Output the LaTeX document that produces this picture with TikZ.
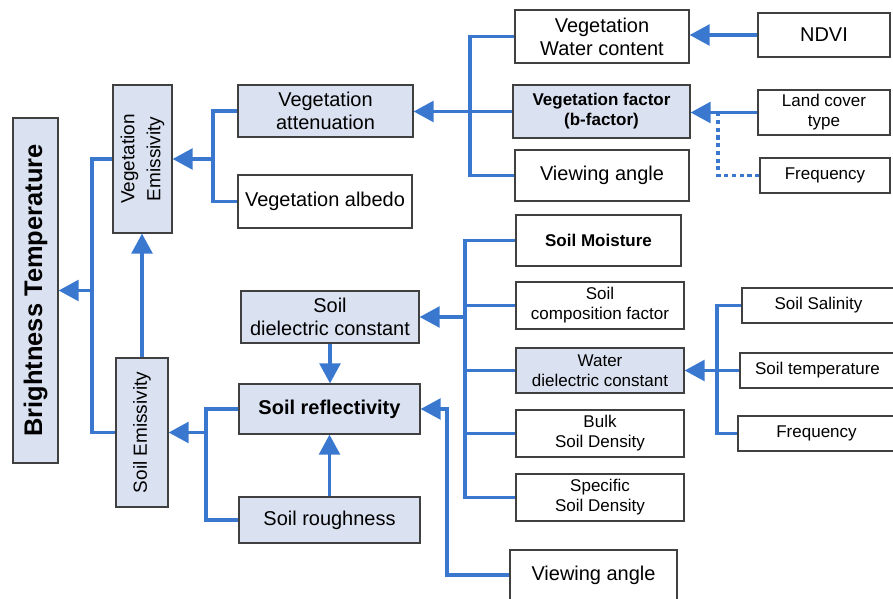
\documentclass[tikz,border=0pt]{standalone}
\usepackage{fontspec}
\setmainfont{Liberation Sans}
\usetikzlibrary{arrows.meta}
\definecolor{lineblue}{RGB}{58,120,207}
\definecolor{boxfill}{RGB}{218,225,240}
\definecolor{boxgray}{RGB}{64,64,64}
\tikzset{
  box/.style = {draw = boxgray, fill = white, line width = 0.9pt, inner sep = 0pt, align = center, font = \fontsize{14.2}{16.4}\selectfont},
  bluebox/.style = {box, fill = boxfill},
  small/.style = {font = \fontsize{12.1}{14.2}\selectfont},
  smallbold/.style = {font = \fontsize{12.1}{14.2}\selectfont\bfseries},
  link/.style = {draw = lineblue, line width = 2.3pt},
  arr/.style = {link, -{Triangle[length = 0.5cm, width = 0.52cm]}},
  dotlink/.style = {link, dash pattern = on 3pt off 2.5pt}
}
\begin{document}
\begin{tikzpicture} [scale = 1]
\useasboundingbox (0, 0) rectangle (22.325, 14.95);
\node[bluebox, rotate = 90, minimum width = 8.625cm, minimum height = 1.125cm, font = \fontsize{18.1}{21}\selectfont\bfseries] (BT) at (0.8875, 7.6875){Brightness Temperature};
\node[bluebox, rotate = 90, minimum width = 3.7cm, minimum height = 1.475cm, font = \fontsize{13.5}{18.5}\selectfont] (vegEm) at (3.5625, 10.975){Vegetation\\Emissivity};
\node[bluebox, rotate = 90, minimum width = 3.725cm, minimum height = 1.3cm, font = \fontsize{13.5}{18.5}\selectfont] (soilEm) at (3.55, 4.1375){Soil Emissivity};
\node[bluebox, minimum width = 4.375cm, minimum height = 1.3cm] (vegAtt) at (8.1375, 12.175){Vegetation\\attenuation};
\node[box, minimum width = 4.35cm, minimum height = 1.325cm] (vegAlb) at (8.125, 9.9125){Vegetation albedo};
\node[box, minimum width = 4.35cm, minimum height = 1.325cm] (vegWC) at (15.05, 14.0375){Vegetation\\Water content};
\node[bluebox, smallbold, minimum width = 4.425cm, minimum height = 1.325cm] (vegFac) at (15.0375, 12.1625){Vegetation factor\\(b-factor)};
\node[box, minimum width = 4.35cm, minimum height = 1.275cm] (viewTop) at (15.05, 10.5625){Viewing angle};
\node[box, minimum width = 3.3cm, minimum height = 1.1cm] (ndvi) at (20.6, 14.075){NDVI};
\node[box, small, minimum width = 3.3cm, minimum height = 1.125cm] (landCov) at (20.6, 12.1375){Land cover\\type};
\node[box, small, minimum width = 3.25cm, minimum height = 0.875cm] (freqTop) at (20.625, 10.5625){Frequency};
\node[bluebox, minimum width = 4.45cm, minimum height = 1.3cm] (soilDiel) at (8.25, 7.025){Soil\\dielectric constant};
\node[bluebox, font = \fontsize{14.2}{16.4}\selectfont\bfseries, minimum width = 4.525cm, minimum height = 1.25cm] (soilRefl) at (8.2375, 4.725){Soil reflectivity};
\node[bluebox, minimum width = 4.525cm, minimum height = 1.15cm] (soilRough) at (8.2375, 1.95){Soil roughness};
\node[box, minimum width = 4.175cm, minimum height = 1.25cm] (viewBot) at (14.8375, 0.575){Viewing angle};
\node[box, smallbold, minimum width = 4.125cm, minimum height = 1.275cm] (soilMoist) at (14.9625, 8.9375){Soil Moisture};
\node[box, small, minimum width = 4.2cm, minimum height = 1.175cm] (soilComp) at (15.0, 7.3125){Soil\\composition factor};
\node[bluebox, small, minimum width = 4.2cm, minimum height = 1.125cm] (waterDiel) at (15.0, 5.6875){Water\\dielectric constant};
\node[box, small, minimum width = 4.2cm, minimum height = 1.175cm] (bulkDens) at (15.0, 4.1125){Bulk\\Soil Density};
\node[box, small, minimum width = 4.2cm, minimum height = 1.175cm] (specDens) at (15.0, 2.5125){Specific\\Soil Density};
\node[box, small, minimum width = 3.825cm, minimum height = 0.875cm] (salinity) at (20.4625, 7.3125){Soil Salinity};
\node[box, small, minimum width = 3.875cm, minimum height = 0.875cm] (soilTemp) at (20.4375, 5.6875){Soil temperature};
\node[box, small, minimum width = 3.925cm, minimum height = 0.875cm] (freqBot) at (20.4125, 4.1125){Frequency};
\coordinate (jBT) at (2.3, 7.6875);
\coordinate (jVE) at (5.325, 10.975);
\coordinate (jSE) at (5.15, 4.1375);
\coordinate (jVA) at (11.75, 12.175);
\coordinate (jFreq) at (17.95, 12.1375);
\coordinate (jSD) at (11.625, 7.025);
\coordinate (jView) at (11.175, 4.725);
\coordinate (jWD) at (17.925, 5.6875);
\draw[link] (vegEm.north) -| (jBT) |- (soilEm.north);
\draw[arr] (jBT) -- (BT.south);
\draw[link] (vegAtt.west) -| (jVE) |- (vegAlb.west);
\draw[arr] (jVE) -- (vegEm.south);
\draw[arr] (soilEm.east) -- (soilEm.east |- vegEm.west);
\draw[link] (soilRefl.west) -| (jSE) |- (soilRough.west);
\draw[arr] (jSE) -- (soilEm.south);
\draw[link] (vegWC.west) -| (jVA) |- (viewTop.west);
\draw[arr] (vegFac.west) -- (vegFac.west -| vegAtt.east);
\draw[arr] (ndvi.west) -- (ndvi.west -| vegWC.east);
\draw[arr] (landCov.west) -- (landCov.west -| vegFac.east);
\draw[dotlink] (freqTop.west) -| (jFreq);
\draw[link] (soilMoist.west) -| (jSD) |- (specDens.west);
\foreach \n in {soilComp, waterDiel, bulkDens}
  \draw[link] (\n.west) -- (\n.west -| jSD);
\draw[arr] (jSD) -- (soilDiel.east);
\draw[arr] (soilDiel.south) -- (soilDiel.south |- soilRefl.north);
\draw[arr] (soilRough.north) -- (soilRough.north |- soilRefl.south);
\draw[arr] (viewBot.west) -| (jView) -- (soilRefl.east);
\draw[link] (salinity.west) -| (jWD) |- (freqBot.west);
\draw[arr] (soilTemp.west) -- (waterDiel.east);
\end{tikzpicture}
\end{document}
